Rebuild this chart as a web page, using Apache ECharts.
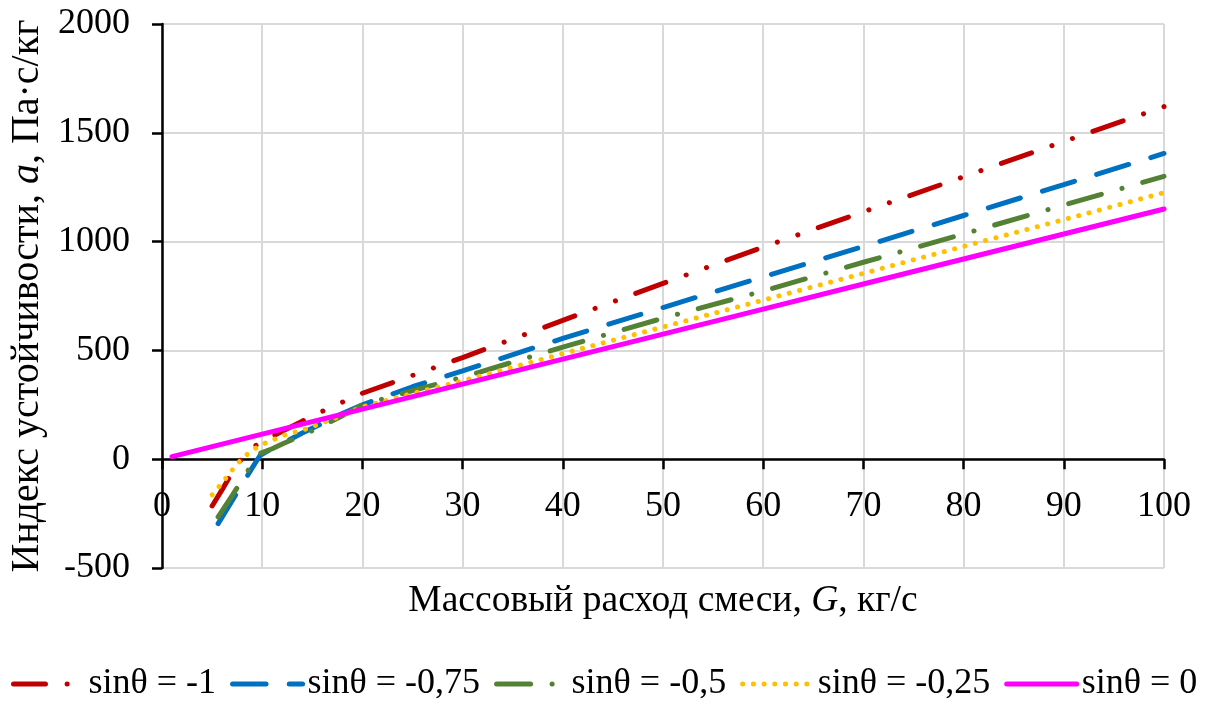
<!DOCTYPE html>
<html>
<head>
<meta charset="utf-8">
<script src="https://cdn.jsdelivr.net/npm/echarts@6/dist/echarts.min.js"></script>
<style>
html,body{margin:0;padding:0;background:#fff;}
#chart{width:1210px;height:701px;}
</style>
</head>
<body>
<div id="chart"></div>
<script>
// Data
const seriesNames = ['sinθ = -1', 'sinθ = -0,75', 'sinθ = -0,5', 'sinθ = -0,25', 'sinθ = 0'];

const G_m100 = [5, 6, 7, 8, 9, 10, 11, 12, 14, 16, 18, 20, 30, 40, 50, 60, 70, 80, 90, 100];
const a_m100 = [-215, -140, -62, 5, 52, 82, 105, 128, 175, 220, 262, 303, 467, 638, 808, 975, 1137, 1298, 1460, 1620];

const G_m075 = [5.6, 6, 7, 8, 9, 9.8, 11, 12, 14, 16, 18, 20, 25, 30, 40, 50, 60, 70, 80, 90, 100];
const a_m075 = [-296, -266, -191, -116, -40, 18, 49, 72, 120, 165, 210, 250, 333, 406, 555, 697, 838, 978, 1120, 1262, 1405];

const G_m050 = [5.6, 6, 7, 8, 9, 9.7, 11, 12, 14, 16, 18, 20, 25, 30, 40, 50, 60, 70, 80, 90, 100];
const a_m050 = [-265, -237, -167, -95, -21, 25, 48, 70, 110, 153, 200, 250, 315, 377, 515, 648, 773, 905, 1035, 1168, 1300];

const G_m025 = [5, 6, 7, 8, 9, 10, 11, 12, 13, 14, 15, 16, 17, 18, 20, 25, 30, 40, 50, 60, 70, 80, 90, 100];
const a_m025 = [-164, -109, -50, 3, 41, 68, 87, 108, 121, 133, 150, 168, 184, 203, 240, 302, 360, 485, 608, 731, 854, 978, 1101, 1225];

const G_0 = [1, 10, 20, 30, 40, 50, 60, 70, 80, 90, 100];
const a_0 = [12, 115, 230, 345, 460, 575, 690, 805, 920, 1035, 1150];

const xTicks = {min: 0, max: 100, interval: 10};
const yTicks = {min: -500, max: 2000, interval: 500};

const FONT = 'Liberation Serif';
const FS = 36;
const FS_YNAME = 40;
const FS_XNAME = 37.5;

function pairs(xs, ys){ return xs.map((x,i)=>[x, ys[i]]); }

const styles = [
  {color:'#C00000', type:[32,21.6,0.1,21.6,0.1,21.6]},
  {color:'#0070C0', type:[33.5,23.2]},
  {color:'#548235', type:[34,21.45,0.1,21.45]},
  {color:'#FFC000', type:[0.1,10.6]},
  {color:'#FF00FF', type:'solid'}
];
const dataSets = [
  pairs(G_m100, a_m100),
  pairs(G_m075, a_m075),
  pairs(G_m050, a_m050),
  pairs(G_m025, a_m025),
  pairs(G_0, a_0)
];

const chart = echarts.init(document.getElementById('chart'), null, {renderer:'canvas'});
const option = {
  animation: false,
  backgroundColor: '#fff',
  textStyle: {fontFamily: FONT, color:'#000'},
  grid: {left: 162, right: 46, top: 24, bottom: 133, containLabel: false, outerBoundsMode: 'none'},
  xAxis: {
    type: 'value',
    min: xTicks.min, max: xTicks.max, interval: xTicks.interval,
    name: 'Массовый расход смеси, {i|G}, кг/с',
    nameLocation: 'middle',
    nameGap: 123,
    offset: 0,
    nameTextStyle: {fontFamily: FONT, fontSize: FS_XNAME, color:'#000',
      rich: {i: {fontFamily: FONT, fontSize: FS_XNAME, fontStyle:'italic', color:'#000'}}},
    axisLine: {show: true, onZero: false, lineStyle: {color:'#000', width: 2.5}},
    axisTick: {show: true, length: 10, lineStyle: {color:'#000', width: 2.5}},
    axisLabel: {fontFamily: FONT, fontSize: FS, color:'#000', margin: 29, formatter: v => String(v)},
    splitLine: {show: true, lineStyle: {color:'#d9d9d9', width: 2}}
  },
  yAxis: {
    type: 'value',
    min: yTicks.min, max: yTicks.max, interval: yTicks.interval,
    name: 'Индекс устойчивости, {i|a}, Па·с/кг',
    nameLocation: 'middle',
    nameGap: 105,
    nameTextStyle: {fontFamily: FONT, fontSize: FS_YNAME, color:'#000',
      rich: {i: {fontFamily: FONT, fontSize: FS_YNAME, fontStyle:'italic', color:'#000'}}},
    axisLine: {show: true, onZero: false, lineStyle: {color:'#000', width: 2.5}},
    axisTick: {show: true, length: 10, lineStyle: {color:'#000', width: 2.5}},
    axisLabel: {fontFamily: FONT, fontSize: FS, color:'#000', margin: 32, formatter: v => String(v)},
    splitLine: {show: true, lineStyle: {color:'#d9d9d9', width: 2}}
  },
  legend: {
    left: 6, top: 661,
    itemWidth: 70, itemHeight: 14, itemGap: 14,
    textStyle: {fontFamily: FONT, fontSize: FS, color:'#000'},
    itemStyle: {opacity: 0},
    lineStyle: {width: 5},
    data: seriesNames
  },
  series: seriesNames.map((n, i) => ({
    name: n,
    type: 'line',
    data: dataSets[i],
    symbol: 'none',
    showSymbol: false,
    smooth: false,
    lineStyle: {color: styles[i].color, width: 5, type: styles[i].type, cap: 'round'},
    itemStyle: {color: styles[i].color}
  }))
};
chart.setOption(option);
// move the x axis (line, ticks, labels) onto the y = 0 line using the library's scale
const yBottom = chart.convertToPixel({yAxisIndex: 0}, yTicks.min);
const yZero = chart.convertToPixel({yAxisIndex: 0}, 0);
chart.setOption({xAxis: {offset: -(yBottom - yZero)}});
</script>
</body>
</html>
